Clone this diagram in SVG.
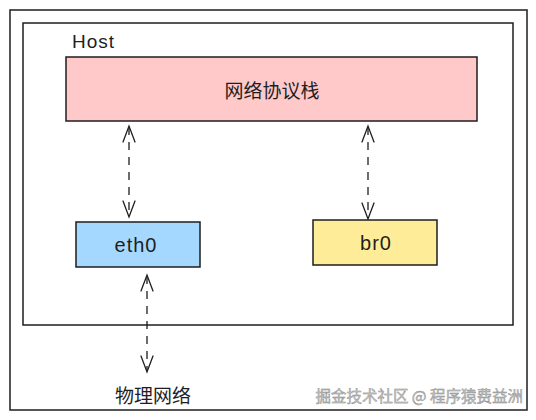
<svg xmlns="http://www.w3.org/2000/svg" width="536" height="420" viewBox="0 0 536 420">
<defs>
<style>
.frame{fill:none;stroke:#1e1e1e;stroke-width:1.5}
.box{stroke:#1e1e1e;stroke-width:1.5}
.lbl{font-family:"Liberation Sans","Noto Sans CJK SC",sans-serif;fill:#1e1e1e;text-anchor:middle;dominant-baseline:central}
.cn{font-family:"Noto Sans CJK SC",sans-serif;fill:#1e1e1e;text-anchor:middle;dominant-baseline:central}
.conn{fill:none;stroke:#1e1e1e;stroke-width:1.3;stroke-dasharray:8 7}
.head{fill:none;stroke:#1e1e1e;stroke-width:1.3;stroke-linecap:round}
</style>
</defs>
<rect width="536" height="420" fill="#ffffff"/>
<rect id="outer" class="frame" x="10" y="10" width="517" height="400"/>
<g id="host">
<rect class="frame" x="23" y="23" width="490" height="302"/>
<text x="72" y="41" class="lbl" style="text-anchor:start;font-size:19px;letter-spacing:1px">Host</text>
</g>
<g id="stack">
<rect class="box" x="66" y="57" width="411" height="64" fill="#ffc9c9"/>
<text x="272" y="89" class="cn" font-size="19">网络协议栈</text>
</g>
<g id="eth0">
<rect class="box" x="76" y="222" width="124" height="45" fill="#a5d8ff"/>
<text x="136" y="245" class="lbl" font-size="20" letter-spacing="1">eth0</text>
</g>
<g id="br0">
<rect class="box" x="313" y="220" width="124" height="45" fill="#ffec99"/>
<text x="376" y="243" class="lbl" font-size="20" letter-spacing="1">br0</text>
</g>
<g id="physnet">
<text x="153" y="394" class="cn" font-size="19">物理网络</text>
</g>
<g id="connectors">
<line class="conn" x1="129" y1="127" x2="129" y2="216"/>
<path class="head" d="M123,142 L129,126 L135,142 M123,201 L129,217 L135,201"/>
<line class="conn" x1="368" y1="127" x2="368" y2="218"/>
<path class="head" d="M362,142 L368,126 L374,142 M362,203 L368,219 L374,203"/>
<line class="conn" x1="147" y1="276" x2="147" y2="371"/>
<path class="head" d="M141,291 L147,275 L153,291 M141,356 L147,372 L153,356"/>
</g>
<text x="523" y="402" font-family="Noto Sans CJK SC,sans-serif" font-size="15.5" fill="#c4c4c4" stroke="#8a8a8a" stroke-width="0.4" text-anchor="end">掘金技术社区 @ 程序猿费益洲</text>
</svg>
